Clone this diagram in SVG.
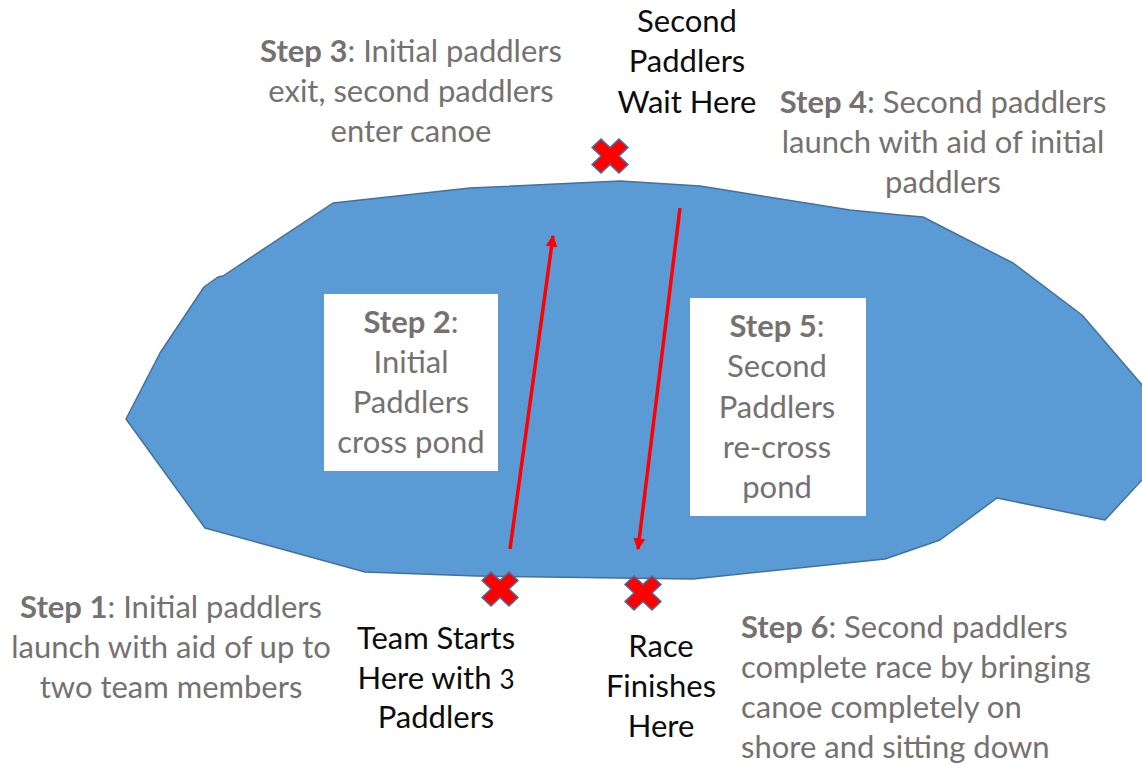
<svg xmlns="http://www.w3.org/2000/svg" width="1142" height="765" viewBox="0 0 1142 765">
  <defs>
    <style>
      .t { font-family: Lato, "Open Sans", "Liberation Sans", sans-serif; font-size: 31px; }
      .grey { fill: #767171; }
      .black { fill: #0d0d0d; }
      .mid { text-anchor: middle; }
      .b { font-weight: bold; }
      .pond { fill: #5b9bd5; stroke: #41719c; stroke-width: 1.5; stroke-linejoin: round; }
      .box { fill: #ffffff; }
      .mark { fill: #ff0000; stroke: #41719c; stroke-width: 1.5; stroke-linejoin: miter; }
      .route { stroke: #ff0000; stroke-width: 3.5; fill: none; }
    </style>
    <marker id="head" viewBox="0 0 10 10" refX="9" refY="5" markerWidth="3.4" markerHeight="3.4" orient="auto" markerUnits="strokeWidth">
      <path d="M0,0 L10,5 L0,10 z" fill="#ff0000"/>
    </marker>
    <polygon id="x" points="-18,-9 -9,-18 0,-9 9,-18 18,-9 9,0 18,9 9,18 0,9 -9,18 -18,9 -9,0"/>
  </defs>

  <rect width="1142" height="765" fill="#ffffff"/>

  <!-- the pond -->
  <g id="pond">
    <polygon class="pond" points="333,203 470,188 620,181 700,186 850,210 900,215 923,217 1013,263 1082,315 1142,385 1165,430 1142,480 1105,520 997,498 940,540 885,559 693,579 477,576 365,572 205,528 126,419 160,353 204,287 218,277 223,276"/>
  </g>

  <!-- crossing routes -->
  <g id="connectors">
    <line class="route" x1="510" y1="549" x2="553" y2="236" marker-end="url(#head)"/>
    <line class="route" x1="680" y1="208" x2="638" y2="549" marker-end="url(#head)"/>
  </g>

  <!-- shore markers -->
  <g id="mark-wait"><use href="#x" class="mark" transform="translate(610,156) scale(1,0.95)"/></g>
  <g id="mark-start"><use href="#x" class="mark" transform="translate(500,589) scale(1,0.95)"/></g>
  <g id="mark-finish"><use href="#x" class="mark" transform="translate(643,593) scale(1,0.95)"/></g>

  <g id="step1">
    <text class="t grey mid" x="171" y="618"><tspan class="b">Step 1</tspan>: Initial paddlers</text>
    <text class="t grey mid" x="171" y="658">launch with aid of up to</text>
    <text class="t grey mid" x="171" y="698">two team members</text>
  </g>

  <g id="step2">
    <rect class="box" x="324" y="294" width="174" height="177"/>
    <text class="t grey mid" x="411" y="333"><tspan class="b">Step 2</tspan>:</text>
    <text class="t grey mid" x="411" y="373">Initial</text>
    <text class="t grey mid" x="411" y="413">Paddlers</text>
    <text class="t grey mid" x="411" y="453">cross pond</text>
  </g>

  <g id="step3">
    <text class="t grey mid" x="411" y="62"><tspan class="b">Step 3</tspan>: Initial paddlers</text>
    <text class="t grey mid" x="411" y="102">exit, second paddlers</text>
    <text class="t grey mid" x="411" y="142">enter canoe</text>
  </g>

  <g id="wait">
    <text class="t black mid" x="687" y="32">Second</text>
    <text class="t black mid" x="687" y="72">Paddlers</text>
    <text class="t black mid" x="687" y="113">Wait Here</text>
  </g>

  <g id="step4">
    <text class="t grey mid" x="943" y="113"><tspan class="b">Step 4</tspan>: Second paddlers</text>
    <text class="t grey mid" x="943" y="153">launch with aid of initial</text>
    <text class="t grey mid" x="943" y="193">paddlers</text>
  </g>

  <g id="step5">
    <rect class="box" x="690" y="298" width="176" height="218"/>
    <text class="t grey mid" x="777" y="337"><tspan class="b">Step 5</tspan>:</text>
    <text class="t grey mid" x="777" y="377">Second</text>
    <text class="t grey mid" x="777" y="418">Paddlers</text>
    <text class="t grey mid" x="777" y="458">re-cross</text>
    <text class="t grey mid" x="777" y="498">pond</text>
  </g>

  <g id="start">
    <text class="t black mid" x="436" y="649">Team Starts</text>
    <text class="t black mid" x="436" y="689">Here with <tspan font-size="26">3</tspan></text>
    <text class="t black mid" x="436" y="728">Paddlers</text>
  </g>

  <g id="finish">
    <text class="t black mid" x="661" y="657">Race</text>
    <text class="t black mid" x="661" y="697">Finishes</text>
    <text class="t black mid" x="661" y="737">Here</text>
  </g>

  <g id="step6">
    <text class="t grey" x="741" y="638"><tspan class="b">Step 6</tspan>: Second paddlers</text>
    <text class="t grey" x="741" y="678">complete race by bringing</text>
    <text class="t grey" x="741" y="718">canoe completely on</text>
    <text class="t grey" x="741" y="758">shore and sitting down</text>
  </g>
</svg>
